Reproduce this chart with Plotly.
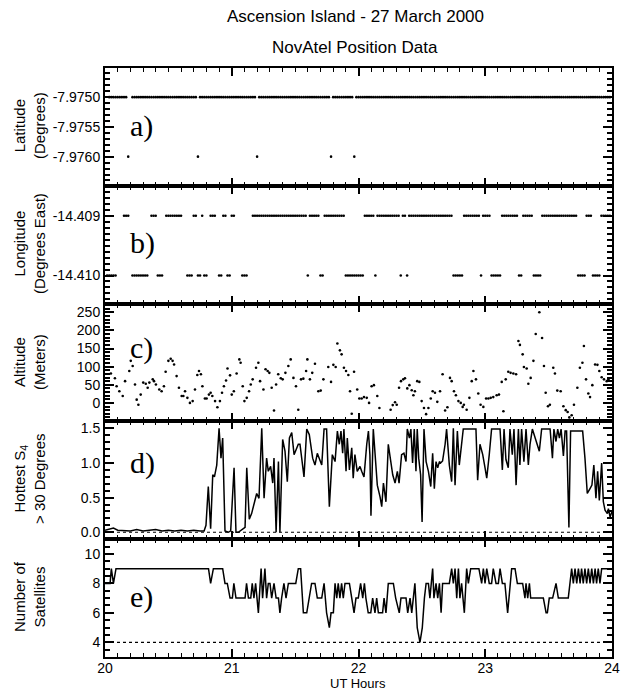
import plotly.graph_objects as go
from plotly.subplots import make_subplots

T0 = 20.0  # UT hours at start; sample times below are minutes after 20 UT

# ---- a) Latitude: runs of consecutive 1-minute samples (first min, last min, value)
lat_runs = [
    (2, 10, -7.9750), (11, 11, -7.9760), (13, 43, -7.9750), (44, 44, -7.9760),
    (45, 71, -7.9750), (72, 72, -7.9760), (73, 106, -7.9750), (107, 107, -7.9760),
    (108, 117, -7.9750), (118, 118, -7.9760), (119, 239, -7.9750),
]

# ---- b) Longitude runs
lon_runs = [
    (1, 5, -14.410), (9, 11, -14.409), (13, 20, -14.410), (22, 24, -14.409),
    (25, 27, -14.410), (29, 36, -14.409), (39, 41, -14.410), (42, 43, -14.409),
    (44, 45, -14.410), (46, 46, -14.409), (47, 48, -14.410), (50, 52, -14.409),
    (54, 55, -14.410), (56, 57, -14.409), (58, 59, -14.410), (60, 61, -14.409),
    (65, 67, -14.410), (70, 95, -14.409), (96, 96, -14.410), (97, 101, -14.409),
    (102, 103, -14.410), (104, 113, -14.409), (114, 122, -14.410), (123, 127, -14.409),
    (128, 128, -14.410), (129, 139, -14.409), (140, 140, -14.410), (141, 142, -14.409),
    (143, 143, -14.410), (144, 164, -14.409), (165, 169, -14.410), (170, 177, -14.409),
    (178, 178, -14.410), (179, 182, -14.409), (183, 187, -14.410), (188, 195, -14.409),
    (196, 197, -14.410), (198, 202, -14.409), (203, 206, -14.410), (207, 223, -14.409),
    (224, 227, -14.410), (228, 230, -14.409), (231, 234, -14.410), (235, 239, -14.409),
]

# ---- c) Altitude (m)
alt_min = [2.8, 4.7, 5.5, 6.8, 8.4, 9.5, 11.5, 12.2, 13.1, 14.2, 15, 15.8, 16.9, 18.1, 19.3,
           20.2, 21, 22.6, 23.2, 24.1, 25.7, 26.8, 27.9, 28.7, 30, 31.1, 32, 32.7, 33.9, 35,
           36.3, 37.1, 37.9, 39, 40.2, 41.5, 42.6, 43.7, 44.5, 45.4, 46.1, 47.3, 48.1, 49.2,
           50, 50.8, 52.1, 53.2, 54.4, 55.4, 56.3, 57.3, 58, 59.2, 60, 61, 62.3, 63.6, 64.2,
           65.2, 66, 67.1, 68.2, 69, 69.9, 71.5, 72.6, 73.4, 75, 76, 77, 77.8, 78.9, 80, 81,
           82, 83.2, 84.1, 85.4, 86.8, 87.9, 89.2, 90.4, 91.5, 92.8, 93.9, 95.2, 95.8, 97,
           98.1, 99.4, 101, 102.1, 103.4, 105.7,
           107, 108.1, 109.2, 110, 111.2, 112, 113.1, 114.1, 115.2, 116, 116.8, 117.9, 119.4,
           120.4, 121.5, 122.6, 123.9, 125, 126.2, 127.3, 128.9, 129.9, 131.4, 132.5, 133.6,
           135.2, 136.2, 137.3, 138.1, 139.2, 140.1, 141.2, 142, 143.1, 144.1, 145.2, 146,
           146.7, 147.8, 148.8, 149.9, 151, 152, 153.1, 154.2, 155.1, 156.2, 157.3, 158.6,
           159.8, 161, 162.1, 163.3, 164.1, 165.2, 166.1, 167.3, 168.4, 169.3, 169.9, 171.2,
           172.5, 173.6, 174.4, 175.6, 176.7, 177.8, 179.1, 180.4, 181.5, 182.6, 183.8, 185.4,
           186.5, 187.8, 188.6, 189.7, 190.9, 192, 193.3, 194.6, 195.7, 196.4, 197.7, 198.3,
           199.6, 200.4, 201.5, 202.8, 203.9, 205.6, 206.9, 207.8, 208.6, 209.7, 210.6, 212.2,
           213, 214.1, 215.7, 217, 218.1, 219, 219.8, 220.9, 222, 223.6, 224.8, 226, 226.7,
           227.7, 228.8, 229.6, 230.7, 232, 233.1, 234, 235.1, 236.2, 237.5, 238.3]
alt_val = [81, 68, 46, 32, 19, 60, 88, 116, 102, 51, 9, -5, 23, 56, 53,
           42, 56, 65, 60, 51, 37, 32, 46, 86, 116, 122, 116, 106, 74, 42,
           19, 19, 32, 14, 0, 5, 37, 77, 88, 79, 46, 12, 12, 23,
           28, 19, 5, -12, 5, 28, 46, 62, 95, 76, 23, 32, 81, 120, 111,
           46, 5, 14, 32, 51, 65, 97, 111, 60, 37, 93, 88, 83, 42, -21, 51,
           79, 68, 65, 83, 102, 120, 69, 46, -19, 65, 67, 88, 120, 65,
           83, 108, 32, 34, 65, 99,
           58, 105, 99, 164, 145, 134, 97, 88, 77, 32, -30, 86, 37,
           12, 12, 16, 14, 0, 46, 49, 19, -14, -47, -49, -49,
           -19, -6, 2, -5, 42, 60, 65, 68, 40, 49, 35, 21,
           32, 60, 58, 5, -14, -31, -14, 12, 32, 28, 3, 32,
           79, -21, -12, 69, 60, 32, 21, 5, 0, -11, -5, -19,
           14, 60, 88, 65, 26, -5, -11, 12, 12, 14, 16, 21,
           23, 58, -23, 65, 86, 83, 81, 79, 171, 160, 134, 99,
           95, 53, 69, 116, 190, 250, 179, 102, 28, -9, -5, 97,
           81, 34, 32, -9, -20, -25, -40, -34, -5, 42, 97, 111, 157,
           65, 26, 16, 49, 106, 105, 88, 71, 65, 60, 65]

# ---- d) Hottest S4 > 30 degrees
s4_min = [0, 2, 4, 6, 9, 12, 15, 18, 21, 24, 27, 30, 33, 36, 39, 42, 45,
          46.9, 47.8, 48.9, 50, 51, 51.8, 52.9, 54, 54.9, 55.7, 56.8, 58.4, 59.5, 61.1, 62,
          63.1, 64.2, 66.3, 67.1, 68.3, 69.4, 71, 71.8, 72.9, 74.2, 75.3, 76.5, 77.3, 78.4,
          79.4, 80, 81, 82.1, 82.8, 84.1, 85.2, 86.3, 87.3, 88.4, 89.5, 90.7, 91.5,
          92.3, 94.2, 95.5, 96.7, 98.3, 99.4, 100.5, 101.5, 102.6, 103.7, 104.9, 106.2, 107.6,
          108.9, 110, 110.9, 111.7, 112.5, 113.1, 114.1, 114.7, 115.7, 116.8, 117.5, 118.3,
          119.4, 120.7, 121.5, 122.6, 123.9, 124.7, 125.4, 125.9, 127, 127.8, 128.9, 130.2,
          131, 131.8, 133, 134.1, 135.2, 136.2, 137.3, 138.4, 139.2, 140.4, 141.5, 142.5,
          143.1, 144.1, 144.8, 145.6, 146.4, 147.2, 147.8, 148.5, 149.4, 150.1, 151, 152,
          153.1, 154.2, 155.1, 155.9, 156.7, 157.5, 158.3, 158.9, 159.8, 161, 161.7, 163,
          164.1, 164.9, 165.7, 166.8, 167.7, 168.8, 169.6, 175.6, 176.4, 177.5, 178.8, 179.9,
          180.7, 181.9, 183, 187, 188.1, 188.9, 189.8, 190.9, 191.7, 192.8, 193.6, 194.6,
          195.7, 196.4, 197.2, 198.3, 199.3, 200.4, 201.2, 202.3, 205.6, 206.7, 210.7, 211.8,
          212.5, 213.5, 214.3, 215.1, 215.9, 217, 217.8, 218.5, 219.6, 220.4, 226.1, 227.2,
          228.3, 229.6, 230.5, 231.4, 232.4, 233.2, 234, 235.1, 235.9, 236.7, 237.8, 238.3,
          239.1, 240]
s4_val = [0.03, 0.04, 0.06, 0.03, 0.03, 0.02, 0.04, 0.02, 0.03, 0.04, 0.02, 0.03, 0.02, 0.03,
          0.02, 0.03, 0.02,
          0.02, 0.10, 0.66, 0.05, 0.83, 0.80, 0.97, 1.50, 1.07, 1.36, 0.02, 0.0, 0.02, 0.93, 0.0,
          0.0, 0.02, 0.07, 0.93, 0.19, 0.27, 0.44, 0.56, 0.49, 1.50, 0.49, 1.07, 0.88, 0.95,
          0.71, 1.07, 0.0, 1.02, 0.0, 1.34, 1.17, 0.73, 1.36, 1.44, 1.12, 1.22, 1.27,
          1.27, 0.80, 1.49, 1.41, 1.07, 0.97, 1.14, 1.07, 0.97, 1.49, 1.49, 0.37, 1.12,
          1.02, 1.46, 1.27, 1.46, 1.14, 1.49, 0.88, 1.36, 0.90, 1.22, 0.78, 1.12,
          0.88, 0.95, 0.88, 0.80, 1.27, 1.46, 1.12, 0.24, 1.49, 1.12, 0.68, 0.51,
          0.37, 0.71, 0.44, 1.27, 1.07, 0.83, 0.71, 0.88, 0.71, 1.12, 1.14, 1.02,
          1.49, 1.36, 1.49, 1.00, 1.49, 0.88, 1.49, 1.07, 0.83, 0.15, 1.49, 1.02,
          0.88, 0.66, 1.14, 0.63, 1.02, 0.93, 1.02, 1.00, 1.03, 1.27, 1.49, 0.97,
          0.73, 1.50, 0.68, 1.46, 0.97, 1.27, 1.49, 1.49, 0.75, 1.27, 1.12, 0.93,
          0.78, 1.12, 1.49, 1.49, 0.90, 1.49, 1.05, 0.93, 1.49, 1.12, 1.49, 0.68,
          1.49, 0.97, 1.49, 1.02, 1.49, 0.97, 1.27, 1.49, 1.17, 1.49, 1.49, 1.07,
          1.49, 1.31, 1.49, 1.36, 1.49, 1.10, 1.46, 1.46, 0.07, 1.46, 1.46, 1.07,
          0.56, 0.63, 0.68, 0.97, 0.49, 0.88, 0.46, 1.00, 0.44, 0.32, 0.27, 0.34,
          0.22, 0.30]

# ---- e) Number of satellites
sat_min = [0, 2.4, 3, 4, 5.2, 49, 50, 51.3, 55.7, 56.8, 57.9, 59.2, 60.3, 61, 62, 66.3, 67,
           67.9, 69, 69.7, 70.5, 71.3, 72.6, 73.9, 74.6, 75.7, 76.5, 77.3, 78.1, 78.9, 80,
           81, 82.1, 82.8, 83.6, 84.7, 85.7, 86.8, 90.3, 91.5, 92.6, 93.9, 95.5, 96.7, 97.8,
           99.4, 100.5, 102.6, 103.7, 104.9, 106.2, 107, 108.1, 108.9, 109.7, 110.4, 111.2,
           112, 112.8, 113.6, 115.7, 116.8, 117.9, 118.8, 119.9, 121, 122, 122.8, 123.5,
           124.6, 125.8, 126.7, 127.8, 128.6, 129.4, 131.4, 132.1, 133, 134.1, 136.5, 137.6,
           139.3, 140.1, 142.5, 143.3, 144.4, 145.2, 146.7, 147.8, 149.1, 150.2, 151.2, 152,
           153.1, 153.8, 155.1, 155.7, 156.7, 157.5, 158.3, 159.1, 159.8, 163, 164.1, 164.9,
           165.7, 166.5, 167.3, 168, 168.8, 170.1, 171.2, 172, 173.1, 177, 178.3, 179.1,
           179.9, 180.7, 181.9, 183, 183.8, 185.1, 186.2, 187, 188.1, 189.3, 190.6, 191.7,
           192.5, 194.1, 195.2, 197.7, 198.8, 199.3, 200.1, 200.9, 201.5, 207.5, 208.8,
           209.4, 210.3, 211.9, 213.5, 214.6, 219.3, 220.9, 221.7, 222.5, 223.3, 224.1,
           224.9, 225.6, 226.4, 227.2, 228, 228.8, 229.6, 230.4, 231.2, 232, 232.7, 233.5,
           234.3, 235.1, 240]
sat_val = [8, 8, 9, 8, 9, 9, 8, 9, 9, 8, 8, 7, 7, 8, 7, 7, 8,
           7, 7, 8, 7, 8, 6, 9, 7, 9, 7, 8, 8, 7, 8,
           7, 7, 6, 7, 8, 7, 8, 8, 9, 9, 6, 6, 7, 8,
           8, 7, 7, 8, 6, 5, 6, 6, 8, 7, 8, 7,
           8, 7, 8, 8, 7, 6, 7, 7, 8, 7, 8, 7,
           6, 6, 7, 6, 7, 6, 6, 7, 6, 8, 8, 7,
           6, 7, 7, 6, 7, 6, 8, 5, 4, 5, 7, 8,
           8, 7, 9, 7, 8, 7, 8, 6, 8, 8, 9, 8,
           9, 7, 9, 7, 8, 6, 9, 8, 9, 9, 8, 9,
           8, 9, 8, 8, 9, 8, 8, 9, 8, 8, 6, 8,
           9, 9, 8, 8, 7, 8, 7, 8, 7, 7, 6,
           6, 7, 7, 8, 7, 7, 9, 8, 9, 8, 9,
           8, 9, 8, 9, 8, 9, 8, 9, 8, 9, 8, 9,
           8, 9, 9]

x_ticks = [20, 21, 22, 23, 24]


def expand(runs):
    mins, vals = [], []
    for first, last, v in runs:
        for m in range(first, last + 1):
            mins.append(m)
            vals.append(v)
    return mins, vals


def to_hours(mins):
    return [T0 + m / 60.0 for m in mins]


lat_min, lat_val = expand(lat_runs)
lon_min, lon_val = expand(lon_runs)

fig = make_subplots(rows=5, cols=1, shared_xaxes=True, vertical_spacing=0)

dot = dict(color="black", size=2.6)
fig.add_trace(go.Scatter(x=to_hours(lat_min), y=lat_val, mode="markers", marker=dot), row=1, col=1)
fig.add_trace(go.Scatter(x=to_hours(lon_min), y=lon_val, mode="markers", marker=dot), row=2, col=1)
fig.add_trace(go.Scatter(x=to_hours(alt_min), y=alt_val, mode="markers", marker=dot), row=3, col=1)
fig.add_trace(go.Scatter(x=to_hours(s4_min), y=s4_val, mode="lines",
                         line=dict(color="black", width=1.5)), row=4, col=1)
fig.add_trace(go.Scatter(x=to_hours(sat_min), y=sat_val, mode="lines",
                         line=dict(color="black", width=1.5)), row=5, col=1)

fig.add_hline(y=0, line=dict(color="black", width=1.2, dash="dot"), row=4, col=1)
fig.add_hline(y=4, line=dict(color="black", width=1.2, dash="dot"), row=5, col=1)

FONT = "Liberation Sans"
tickfont = dict(family=FONT, size=14, color="black")

for r in range(1, 6):
    fig.update_xaxes(range=[20, 24], tickvals=x_ticks, ticktext=[str(v) for v in x_ticks],
                     ticks="inside", ticklen=8, tickwidth=1.5, tickcolor="black",
                     showline=True, linewidth=2, linecolor="black", mirror="allticks",
                     showgrid=False, zeroline=False, tickfont=tickfont,
                     ticklabelstandoff=-3,
                     minor=dict(dtick=0.1, tick0=20, ticks="inside", ticklen=4, tickwidth=1,
                                tickcolor="black", showgrid=False),
                     showticklabels=(r == 5), row=r, col=1)

yaxis_common = dict(ticks="inside", ticklen=9, tickwidth=1.5, tickcolor="black",
                    showline=True, linewidth=2, linecolor="black", mirror="allticks",
                    showgrid=False, zeroline=False, tickfont=tickfont)

lat_ticks = [-7.9750, -7.9755, -7.9760]
fig.update_yaxes(range=[-7.97649, -7.97451], tickvals=lat_ticks,
                 ticktext=["-7.9750", "-7.9755", "-7.9760"],
                 minor=dict(dtick=0.0001, tick0=-7.9760, ticks="inside", ticklen=5, tickcolor="black"),
                 row=1, col=1, **yaxis_common)
lon_ticks = [-14.409, -14.410]
fig.update_yaxes(range=[-14.41047, -14.40850], tickvals=lon_ticks,
                 ticktext=["-14.409", "-14.410"],
                 minor=dict(dtick=0.0001, tick0=-14.410, ticks="inside", ticklen=5, tickcolor="black"),
                 row=2, col=1, **yaxis_common)
alt_ticks = [0, 50, 100, 150, 200, 250]
fig.update_yaxes(range=[-51, 274], tickvals=alt_ticks, ticktext=[str(v) for v in alt_ticks],
                 minor=dict(dtick=10, tick0=0, ticks="inside", ticklen=5, tickcolor="black"),
                 row=3, col=1, **yaxis_common)
s4_ticks = [0.0, 0.5, 1.0, 1.5]
fig.update_yaxes(range=[-0.1, 1.6], tickvals=s4_ticks, ticktext=["0.0", "0.5", "1.0", "1.5"],
                 minor=dict(dtick=0.1, tick0=0, ticks="inside", ticklen=5, tickcolor="black"),
                 row=4, col=1, **yaxis_common)
sat_ticks = [4, 6, 8, 10]
fig.update_yaxes(range=[3, 11], tickvals=sat_ticks, ticktext=[str(v) for v in sat_ticks],
                 minor=dict(dtick=0.5, tick0=3, ticks="inside", ticklen=5, tickcolor="black"),
                 row=5, col=1, **yaxis_common)

L, R, T, B = 105, 9, 68, 33
W, H = 621, 690
pw, ph = W - L - R, H - T - B


def px_to_paper_x(px):
    return (px - L) / pw


def px_to_paper_y(py):
    return (H - B - py) / ph


ann = []
ann.append(dict(text="Ascension Island - 27 March 2000", x=px_to_paper_x(355), y=px_to_paper_y(17)))
ann.append(dict(text="NovAtel Position Data", x=px_to_paper_x(355), y=px_to_paper_y(47)))
for a in ann:
    a.update(xref="paper", yref="paper", showarrow=False, xanchor="center", yanchor="middle",
             font=dict(family=FONT, size=17, color="black"))

ytitles = [("Latitude<br>(Degrees)", 126),
           ("Longitude<br>(Degrees East)", 244),
           ("Altitude<br>(Meters)", 362),
           ("Hottest S<sub>4</sub><br>&gt; 30 Degrees", 479),
           ("Number of<br>Satellites", 597)]
for txt, yc in ytitles:
    ann.append(dict(text=txt, xref="paper", yref="paper", x=px_to_paper_x(29), y=px_to_paper_y(yc),
                    textangle=-90, showarrow=False, xanchor="center", yanchor="middle",
                    font=dict(family=FONT, size=15, color="black")))

labels = [("a)", 126), ("b)", 243), ("c)", 348), ("d)", 463), ("e)", 597)]
for txt, yc in labels:
    ann.append(dict(text=txt, xref="paper", yref="paper", x=px_to_paper_x(128), y=px_to_paper_y(yc),
                    showarrow=False, xanchor="left", yanchor="middle",
                    font=dict(family="Liberation Serif", size=30, color="black")))

ann.append(dict(text="UT Hours", xref="paper", yref="paper", x=px_to_paper_x(358), y=px_to_paper_y(683),
                showarrow=False, xanchor="center", yanchor="middle", borderpad=0,
                font=dict(family=FONT, size=13, color="black")))

fig.update_layout(width=W, height=H, margin=dict(l=L, r=R, t=T, b=B, autoexpand=False),
                  paper_bgcolor="white", plot_bgcolor="white", showlegend=False,
                  annotations=ann, font=dict(family=FONT, color="black"))

fig.write_html("out.html", config={"displayModeBar": False},
               post_script="document.body.style.margin='0px';document.body.style.padding='0px';"
                           "document.body.style.overflow='hidden';")
